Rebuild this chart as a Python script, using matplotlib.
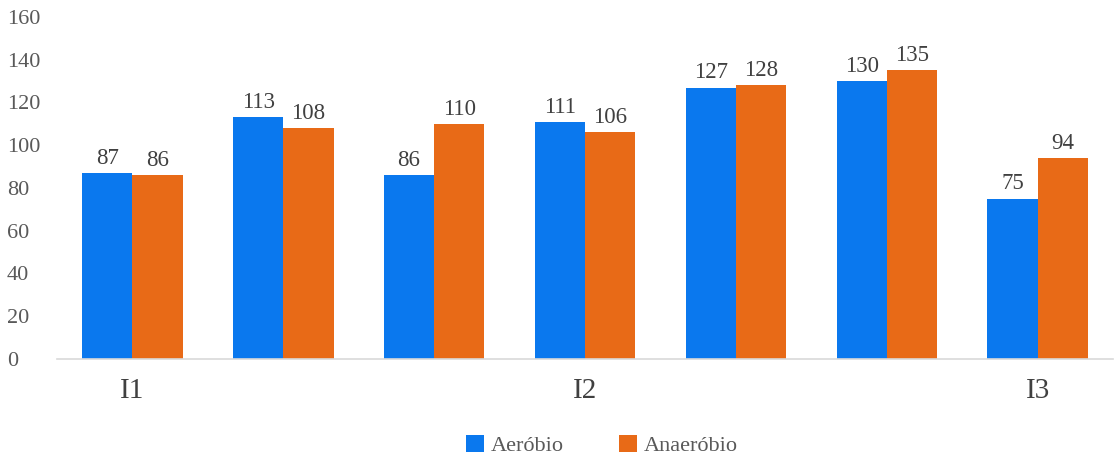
import numpy as np
import matplotlib.pyplot as plt

plt.rcParams['font.family'] = ['Liberation Serif', 'DejaVu Serif']

aerobio = [87, 113, 86, 111, 127, 130, 75]
anaerobio = [86, 108, 110, 106, 128, 135, 94]
tick_pos = [0, 3, 6]
tick_labels = ['I1', 'I2', 'I3']

blue = '#0A78EE'
orange = '#E86A17'
text_grey = '#595959'

fig = plt.figure(figsize=(11.14, 4.59), dpi=100)
ax = fig.add_axes([0.0512, 0.218, 0.948, 0.745])

x = np.arange(len(aerobio))
w = 1 / 3
b1 = ax.bar(x - w / 2, aerobio, w, color=blue, label='Aeróbio')
b2 = ax.bar(x + w / 2, anaerobio, w, color=orange, label='Anaeróbio')

for bars in (b1, b2):
    for rect in bars:
        h = rect.get_height()
        ax.annotate(f'{h:.0f}', (rect.get_x() + rect.get_width() / 2, h),
                    xytext=(0, 3), textcoords='offset points',
                    ha='center', va='bottom', fontsize=16.5, color='#404040')

ax.set_xlim(-0.5, len(aerobio) - 0.5)
ax.set_ylim(0, 160)
ax.set_yticks(range(0, 161, 20))
ax.set_xticks(tick_pos)
ax.set_xticklabels(tick_labels, fontsize=21, color='#404040')
ax.tick_params(axis='x', length=0, pad=14)
ax.tick_params(axis='y', length=0, pad=36, labelsize=16, labelcolor=text_grey)
for lab in ax.get_yticklabels():
    lab.set_horizontalalignment('left')

for side in ('top', 'right', 'left'):
    ax.spines[side].set_visible(False)
ax.spines['bottom'].set_color('#D9D9D9')
ax.spines['bottom'].set_linewidth(1.2)

fig.legend(handles=[b1, b2], loc='center', bbox_to_anchor=(0.54, 0.03),
           ncol=2, frameon=False, fontsize=16, handlelength=0.8,
           handleheight=0.8, handletextpad=0.3, columnspacing=2.5,
           labelcolor=text_grey)

fig.savefig('out.png', dpi=100)
